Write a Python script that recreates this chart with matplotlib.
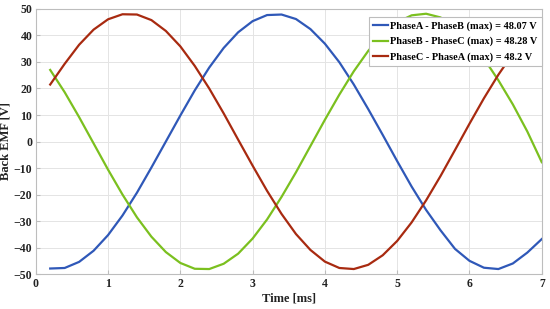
import matplotlib
matplotlib.use("Agg")
import matplotlib.pyplot as plt

# time samples [ms]
time_ms = [0.2, 0.4, 0.6, 0.8, 1.0, 1.2, 1.4, 1.6, 1.8, 2.0, 2.2, 2.4, 2.6, 2.8,
           3.0, 3.2, 3.4, 3.6, 3.8, 4.0, 4.2, 4.4, 4.6, 4.8, 5.0, 5.2, 5.4, 5.6,
           5.8, 6.0, 6.2, 6.4, 6.6, 6.8, 7.0]

# line-to-line back EMF [V]
emf_ab = [-47.9, -47.7, -45.4, -41.2, -35.3, -27.9, -19.3, -9.8, 0.0, 9.8,
          19.3, 27.9, 35.3, 41.2, 45.4, 47.7, 47.9, 46.2, 42.4, 36.9, 29.9,
          21.5, 12.2, 2.5, -7.4, -17.0, -25.8, -33.5, -40.5, -45.0, -47.6,
          -48.1, -46.0, -41.9, -36.8]
emf_bc = [27.0, 18.6, 9.2, -0.7, -10.6, -20.0, -28.6, -35.9, -41.7, -45.8,
          -48.0, -48.1, -46.1, -42.3, -36.6, -29.4, -20.9, -11.6, -1.7, 8.2,
          17.7, 26.5, 34.2, 40.5, 45.0, 47.6, 48.2, 46.8, 43.4, 38.2, 31.3,
          23.1, 14.0, 3.8, -7.8]
emf_ca = [21.5, 29.3, 36.5, 42.2, 46.1, 48.0, 47.9, 45.8, 41.7, 35.9, 28.5,
          20.0, 10.6, 0.7, -9.1, -18.6, -27.3, -34.9, -40.9, -45.3, -47.7,
          -48.1, -46.5, -42.9, -37.5, -30.5, -22.2, -13.0, -3.2, 6.7, 16.3,
          25.2, 33.1, 39.6, 44.4]

labels = ["PhaseA - PhaseB (max) = 48.07 V",
          "PhaseB - PhaseC (max) = 48.28 V",
          "PhaseC - PhaseA (max) = 48.2 V"]
colors = ["#2f58b8", "#7bc01f", "#a82a10"]

plt.rcParams['font.family'] = ['Liberation Serif', 'DejaVu Serif']
plt.rcParams['font.weight'] = 'bold'

fig = plt.figure(figsize=(5.5, 3.09), dpi=100)
ax = fig.add_axes([0.065, 0.113, 0.92, 0.858])

for y, c, lab in zip([emf_ab, emf_bc, emf_ca], colors, labels):
    ax.plot(time_ms, y, color=c, lw=1.6, label=lab)

ax.set_xlim(0, 7)
ax.set_ylim(-50, 50)
ax.set_xticks(range(0, 8))
ax.set_yticks(range(-50, 51, 10))
ax.grid(True, color='#e4e4e4', lw=0.7)
ax.set_axisbelow(True)
for s in ax.spines.values():
    s.set_color('#bdbdbd')
    s.set_linewidth(0.8)
ax.tick_params(direction='in', length=3, color='#bdbdbd', labelsize=8.5,
               labelcolor='#222222', pad=2.5)
for t in ax.get_xticklabels() + ax.get_yticklabels():
    t.set_fontweight('bold')

ax.set_xlabel("Time [ms]", fontsize=9, fontweight='bold', labelpad=2, color='#222222')
ax.set_ylabel("Back EMF [V]", fontsize=9, fontweight='bold', color='#222222')
ax.yaxis.set_label_coords(-0.047, 0.5)

leg = ax.legend(loc='upper right', bbox_to_anchor=(1.0, 0.97), fontsize=7.4,
                handlelength=1.4, handletextpad=0.2, borderpad=0.45,
                labelspacing=0.55, framealpha=1, fancybox=False,
                edgecolor='#bdbdbd', borderaxespad=0.0)
leg.get_frame().set_linewidth(0.8)
for t in leg.get_texts():
    t.set_fontweight('bold')

fig.savefig("out.png", dpi=100)
